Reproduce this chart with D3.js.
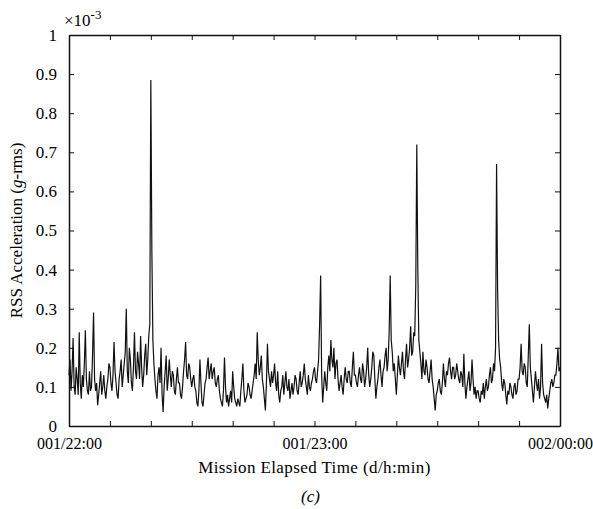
<!DOCTYPE html>
<html>
<head>
<meta charset="utf-8">
<script src="https://cdn.jsdelivr.net/npm/d3@7"></script>
<style>
  body { margin: 0; background: #fff; }
  svg text { font-family: "Liberation Serif", "Times New Roman", serif; fill: #000; }
  .axis path, .axis line { stroke: #111; }
</style>
</head>
<body>
<div id="chart"></div>
<script>
// RSS acceleration (x 10^-3 g-rms), one sample every quarter minute from 001/22:00
const stepMinutes = 0.25;
const rssValues = [
  0.13, 0.17, 0.09, 0.14, 0.225, 0.10, 0.08, 0.15, 0.12, 0.08, 0.24, 0.11, 0.07, 0.13, 0.10, 0.16, 0.245, 0.12, 0.09, 0.08,
  0.14, 0.09, 0.10, 0.18, 0.29, 0.12, 0.09, 0.11, 0.053, 0.08, 0.11, 0.14, 0.08, 0.10, 0.13, 0.09, 0.07, 0.10, 0.12, 0.16,
  0.15, 0.11, 0.09, 0.13, 0.215, 0.14, 0.11, 0.08, 0.07, 0.12, 0.14, 0.17, 0.10, 0.13, 0.16, 0.19, 0.30, 0.14, 0.11, 0.20,
  0.17, 0.11, 0.09, 0.15, 0.24, 0.14, 0.12, 0.19, 0.16, 0.12, 0.23, 0.15, 0.10, 0.13, 0.18, 0.21, 0.13, 0.17, 0.23, 0.26,
  0.885, 0.45, 0.22, 0.16, 0.12, 0.09, 0.07, 0.13, 0.15, 0.11, 0.20, 0.08, 0.036, 0.10, 0.14, 0.18, 0.09, 0.12, 0.17, 0.13,
  0.10, 0.14, 0.13, 0.09, 0.08, 0.12, 0.15, 0.11, 0.11, 0.08, 0.07, 0.10, 0.14, 0.17, 0.215, 0.13, 0.12, 0.16, 0.15, 0.12,
  0.10, 0.12, 0.13, 0.10, 0.09, 0.06, 0.05, 0.09, 0.17, 0.11, 0.06, 0.05, 0.08, 0.11, 0.12, 0.15, 0.175, 0.12, 0.14, 0.16,
  0.12, 0.14, 0.15, 0.11, 0.10, 0.12, 0.13, 0.09, 0.07, 0.06, 0.05, 0.09, 0.175, 0.10, 0.06, 0.08, 0.05, 0.07, 0.09, 0.06,
  0.14, 0.10, 0.07, 0.06, 0.05, 0.07, 0.06, 0.05, 0.09, 0.12, 0.16, 0.09, 0.06, 0.07, 0.08, 0.11, 0.10, 0.08, 0.07, 0.09,
  0.11, 0.13, 0.16, 0.12, 0.24, 0.17, 0.13, 0.15, 0.18, 0.12, 0.10, 0.07, 0.04, 0.11, 0.21, 0.14, 0.12, 0.10, 0.14, 0.11,
  0.13, 0.16, 0.11, 0.09, 0.14, 0.08, 0.06, 0.09, 0.10, 0.13, 0.08, 0.11, 0.14, 0.10, 0.09, 0.12, 0.07, 0.09, 0.11, 0.08,
  0.10, 0.13, 0.12, 0.09, 0.08, 0.11, 0.14, 0.10, 0.11, 0.13, 0.16, 0.12, 0.10, 0.08, 0.13, 0.10, 0.09, 0.11, 0.12, 0.14,
  0.15, 0.12, 0.11, 0.14, 0.17, 0.26, 0.385, 0.13, 0.06, 0.10, 0.14, 0.11, 0.09, 0.15, 0.18, 0.14, 0.22, 0.17, 0.15, 0.20,
  0.12, 0.16, 0.17, 0.12, 0.09, 0.11, 0.13, 0.10, 0.08, 0.12, 0.15, 0.12, 0.11, 0.14, 0.14, 0.11, 0.10, 0.15, 0.19, 0.13,
  0.13, 0.11, 0.10, 0.13, 0.15, 0.12, 0.11, 0.16, 0.14, 0.10, 0.12, 0.15, 0.20, 0.13, 0.10, 0.12, 0.15, 0.19, 0.18, 0.12,
  0.07, 0.10, 0.12, 0.15, 0.17, 0.13, 0.10, 0.14, 0.15, 0.18, 0.20, 0.14, 0.17, 0.24, 0.385, 0.22, 0.19, 0.14, 0.16, 0.12,
  0.08, 0.13, 0.18, 0.15, 0.13, 0.16, 0.19, 0.14, 0.12, 0.17, 0.21, 0.15, 0.17, 0.20, 0.255, 0.18, 0.19, 0.24, 0.23, 0.36,
  0.72, 0.40, 0.22, 0.19, 0.16, 0.12, 0.19, 0.14, 0.13, 0.17, 0.15, 0.12, 0.11, 0.14, 0.17, 0.12, 0.10, 0.07, 0.04, 0.08,
  0.09, 0.11, 0.12, 0.09, 0.08, 0.11, 0.16, 0.12, 0.10, 0.14, 0.13, 0.16, 0.175, 0.14, 0.12, 0.15, 0.15, 0.12, 0.13, 0.16,
  0.14, 0.12, 0.11, 0.14, 0.13, 0.10, 0.185, 0.11, 0.07, 0.10, 0.12, 0.14, 0.09, 0.11, 0.17, 0.12, 0.08, 0.10, 0.07, 0.09,
  0.09, 0.07, 0.06, 0.09, 0.08, 0.11, 0.07, 0.10, 0.12, 0.09, 0.10, 0.13, 0.15, 0.11, 0.12, 0.16, 0.14, 0.20, 0.67, 0.35,
  0.22, 0.17, 0.15, 0.11, 0.09, 0.12, 0.11, 0.08, 0.055, 0.09, 0.08, 0.11, 0.10, 0.08, 0.07, 0.10, 0.11, 0.08, 0.09, 0.12,
  0.12, 0.15, 0.21, 0.14, 0.13, 0.16, 0.15, 0.11, 0.10, 0.18, 0.26, 0.15, 0.12, 0.09, 0.06, 0.10, 0.14, 0.11, 0.09, 0.12,
  0.07, 0.10, 0.21, 0.11, 0.08, 0.07, 0.06, 0.08, 0.045, 0.07, 0.09, 0.11, 0.12, 0.10, 0.11, 0.13, 0.13, 0.16, 0.20, 0.14,
  0.15
];
const xTicks = [0, 10, 20, 30, 40, 50, 60, 70, 80, 90, 100, 110, 120];
const xTickLabels = {0: "001/22:00", 60: "001/23:00", 120: "002/00:00"};
const yTicks = [0, 0.1, 0.2, 0.3, 0.4, 0.5, 0.6, 0.7, 0.8, 0.9, 1];

const width = 593, height = 509;
const margin = {top: 35, right: 33, bottom: 83, left: 69};
const w = width - margin.left - margin.right;
const h = height - margin.top - margin.bottom;

const svg = d3.select('#chart').append('svg')
    .attr('width', width)
    .attr('height', height);

const chart = svg.append('g')
    .attr('transform', `translate(${margin.left},${margin.top})`);

const xScale = d3.scaleLinear().domain([0, 120]).range([0, w]);
const yScale = d3.scaleLinear().domain([0, 1]).range([h, 0]);

const data = rssValues.map((v, i) => ({t: i * stepMinutes, v: v}));

// trace
const line = d3.line()
    .x(d => xScale(d.t))
    .y(d => yScale(d.v));

chart.append('path')
    .datum(data)
    .attr('fill', 'none')
    .attr('stroke', '#111')
    .attr('stroke-width', 1.2)
    .attr('d', line);

// axes, ticks pointing inward on all four sides
const fmtX = d => xTickLabels[d] || '';
const fmtY = d => d === 0 ? '0' : d === 1 ? '1' : d3.format('.1f')(d);

chart.append('g')
    .attr('class', 'axis')
    .attr('transform', `translate(0,${h})`)
    .call(d3.axisBottom(xScale).tickValues(xTicks).tickFormat(fmtX).tickSizeInner(-5).tickSizeOuter(0).tickPadding(12))
    .call(g => g.selectAll('text').style('font-size', '16px'));

chart.append('g')
    .attr('class', 'axis')
    .call(d3.axisTop(xScale).tickValues(xTicks).tickFormat('').tickSizeInner(-5).tickSizeOuter(0));

chart.append('g')
    .attr('class', 'axis')
    .call(d3.axisLeft(yScale).tickValues(yTicks).tickFormat(fmtY).tickSizeInner(-5).tickSizeOuter(0).tickPadding(12))
    .call(g => g.selectAll('text').style('font-size', '17px'));

chart.append('g')
    .attr('class', 'axis')
    .attr('transform', `translate(${w},0)`)
    .call(d3.axisRight(yScale).tickValues(yTicks).tickFormat('').tickSizeInner(-5).tickSizeOuter(0));

chart.selectAll('.axis .domain').attr('stroke-width', 1.5);

// exponent marker
const expo = svg.append('text')
    .attr('x', 64)
    .attr('y', 26)
    .style('font-size', '17px');
expo.append('tspan').text('\u00d710');
expo.append('tspan').attr('dy', -7).style('font-size', '13px').text('-3');

// axis titles
svg.append('text')
    .attr('x', margin.left + w / 2)
    .attr('y', 473)
    .attr('text-anchor', 'middle')
    .style('font-size', '17px')
    .style('letter-spacing', '0.4px')
    .text('Mission Elapsed Time (d/h:min)');

const yTitle = svg.append('text')
    .attr('transform', `translate(22,${margin.top + h / 2}) rotate(-90)`)
    .attr('text-anchor', 'middle')
    .style('font-size', '17px');
yTitle.append('tspan').text('RSS Acceleration (');
yTitle.append('tspan').style('font-style', 'italic').text('g');
yTitle.append('tspan').text('-rms)');

svg.append('text')
    .attr('x', margin.left + w / 2 - 4)
    .attr('y', 502)
    .attr('text-anchor', 'middle')
    .style('font-size', '17px')
    .style('font-style', 'italic')
    .text('(c)');
</script>
</body>
</html>
